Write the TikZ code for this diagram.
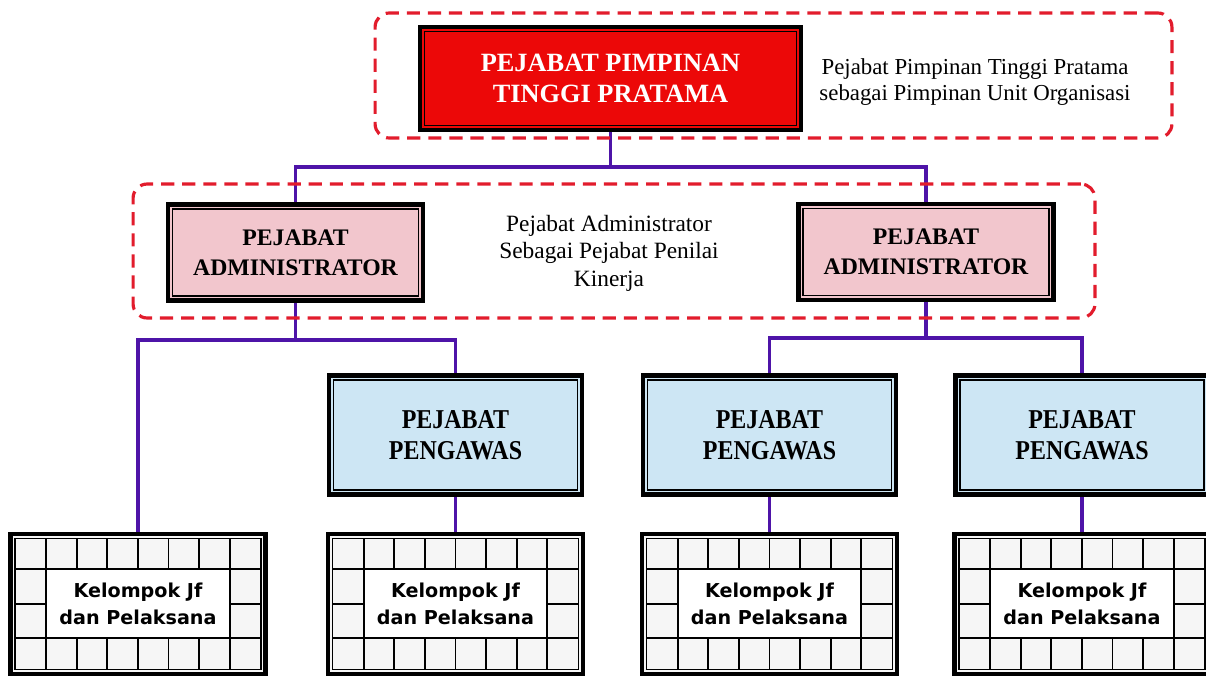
\documentclass[tikz,border=0pt]{standalone}
\usepackage{fontspec}
\setmainfont{Liberation Serif}
\newfontfamily\kelfont{DejaVu Sans}
\newfontfamily\condserif[FakeStretch=0.88]{Liberation Serif}
\usetikzlibrary{calc}
\pgfdeclarelayer{bg}
\pgfsetlayers{bg,main}

\definecolor{topred}{RGB}{236,8,8}
\definecolor{admpink}{RGB}{242,198,205}
\definecolor{pgblue}{RGB}{205,230,244}
\definecolor{dashred}{RGB}{226,28,44}
\definecolor{connpurple}{RGB}{78,20,168}
\definecolor{cellgray}{RGB}{246,246,246}

\tikzset{
  dbox/.style={draw=black, line width=2.4pt, inner sep=0pt, align=center,
    path picture={\draw[black,line width=0.8pt]
      ([xshift=2.6pt,yshift=2.6pt]path picture bounding box.south west) rectangle
      ([xshift=-2.6pt,yshift=-2.6pt]path picture bounding box.north east);}},
  topbox/.style={dbox, fill=topred, text=white, minimum width=7.62cm, minimum height=2.06cm,
    font=\bfseries\fontsize{15}{17.6}\selectfont},
  admbox/.style={dbox, fill=admpink, minimum width=5.1cm, minimum height=1.92cm,
    font=\bfseries\fontsize{13.5}{17}\selectfont},
  pgbox/.style={dbox, fill=pgblue, minimum width=5.06cm, minimum height=2.38cm,
    font=\condserif\bfseries\fontsize{15.5}{17.5}\selectfont},
  kbox/.style={draw=black, line width=2.4pt, fill=cellgray, minimum width=5.1cm,
    minimum height=2.8cm, inner sep=0pt, outer sep=0pt},
  ktext/.style={align=center, inner sep=0pt,
    font=\kelfont\bfseries\fontsize{10.9}{15.4}\selectfont},
  grpbox/.style={draw=dashred, line width=1.8pt, dash pattern=on 7.5pt off 4.5pt,
    rounded corners=8pt, inner sep=0pt},
  conn/.style={draw=connpurple, line width=2pt},
  desc/.style={align=center, inner sep=0pt},
}

\newcommand{\kgrid}[1]{%
  \begin{scope}[shift={(#1.north west)}, line width=1pt]
    \fill[white] (35.6,35) rectangle (219.2,104);
    \draw[line width=0.8pt] (4.6,4.6) rectangle (250.4,135.4);
    \foreach \k in {1,...,7} {
      \draw (5+30.6*\k,5) -- (5+30.6*\k,35);
      \draw (5+30.6*\k,104) -- (5+30.6*\k,135);
    }
    \draw (5,35) -- (250,35) (5,104) -- (250,104);
    \draw (35.6,35) -- (35.6,104) (219.2,35) -- (219.2,104);
    \draw (5,70) -- (35.6,70) (219.2,70) -- (250,70);
  \end{scope}}

\begin{document}
\begin{tikzpicture}[x=0.02cm, y=-0.02cm]
\useasboundingbox (0,0) rectangle (1206,677);
\clip (0,0) rectangle (1206,677);

% boxes
\node[topbox] (top) at (610.5,78.5) {PEJABAT PIMPINAN\\TINGGI PRATAMA};
\node[admbox] (adm1) at (295.5,252.5) {PEJABAT\\ADMINISTRATOR};
\node[admbox] (adm2) at (926,252) {PEJABAT\\ADMINISTRATOR};
\node[pgbox] (pg1) at (455.5,435) {PEJABAT\\PENGAWAS};
\node[pgbox] (pg2) at (769.5,435) {PEJABAT\\PENGAWAS};
\node[pgbox] (pg3) at (1082,435) {PEJABAT\\PENGAWAS};

\node[kbox] (kl1) at (138,604) {};
\kgrid{kl1}
\node[ktext] (kt1) at (kl1) {Kelompok Jf\\dan Pelaksana};
\node[kbox] (kl2) at (455.5,604) {};
\kgrid{kl2}
\node[ktext] (kt2) at (kl2) {Kelompok Jf\\dan Pelaksana};
\node[kbox] (kl3) at (769.5,604) {};
\kgrid{kl3}
\node[ktext] (kt3) at (kl3) {Kelompok Jf\\dan Pelaksana};
\node[kbox] (kl4) at (1082,604) {};
\kgrid{kl4}
\node[ktext] (kt4) at (kl4) {Kelompok Jf\\dan Pelaksana};

% descriptions
\node[desc, font=\fontsize{13}{14.8}\selectfont] (d1) at (975,82)
  {Pejabat Pimpinan Tinggi Pratama\\sebagai Pimpinan Unit Organisasi};
\node[desc, font=\fontsize{13.3}{15.6}\selectfont] (d2) at (609,253)
  {Pejabat Administrator\\Sebagai Pejabat Penilai\\Kinerja};

% group frames
\node[grpbox, minimum width=15.94cm, minimum height=2.5cm] (g1) at (773.5,75.5) {};
\node[grpbox, minimum width=19.24cm, minimum height=2.68cm] (g2) at (614,251) {};

% connectors
\coordinate (b1) at (610.5,167);
\coordinate (b2) at (295.5,340);
\coordinate (b3) at (926,338);
\begin{pgfonlayer}{bg}
\draw[conn] (top.south) -- (b1) -| (adm1.north);
\draw[conn] (b1) -| (adm2.north);
\draw[conn] (adm1.south) -- (b2) -| (kl1.north);
\draw[conn] (b2) -| (pg1.north);
\draw[conn] (pg1.south) -- (kl2.north);
\draw[conn] (adm2.south) -- (b3) -| (pg2.north);
\draw[conn] (b3) -| (pg3.north);
\draw[conn] (pg2.south) -- (kl3.north);
\draw[conn] (pg3.south) -- (kl4.north);
\end{pgfonlayer}
\end{tikzpicture}
\end{document}
